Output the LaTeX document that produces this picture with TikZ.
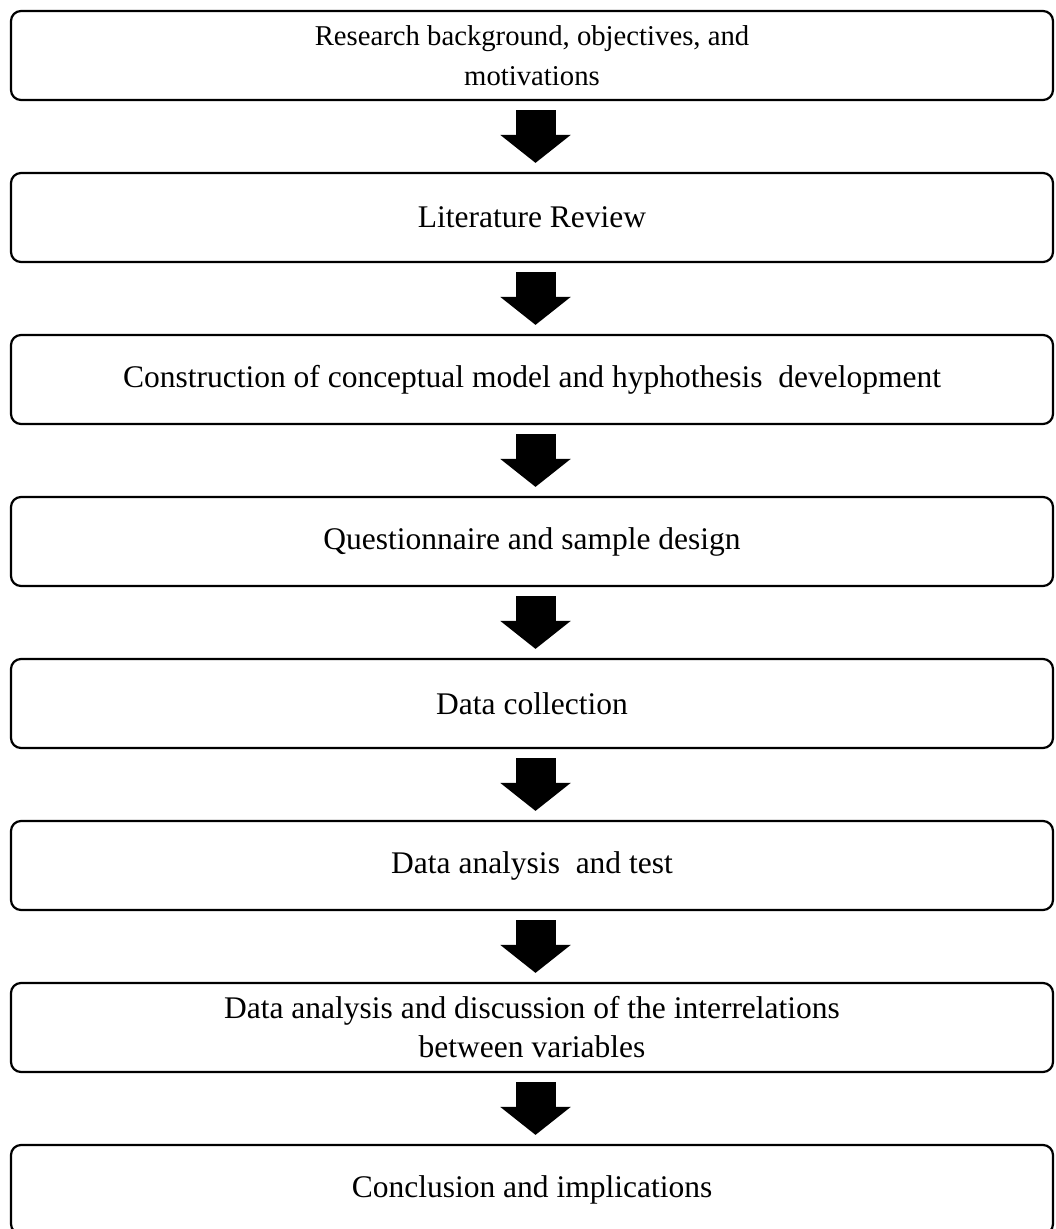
\documentclass[tikz,border=0pt]{standalone}
\usepackage{fontspec}
\setmainfont{Liberation Serif}
\usepackage{tikz}
\usetikzlibrary{positioning,arrows.meta}
\definecolor{colorframe}{RGB}{0 ,0 ,0 }
\definecolor{colortext} {RGB}{0 ,0 ,0 }

\begin{document}
\begin{tikzpicture}[
    x=1pt, y=-1pt,
    font={\fontsize{31.5}{39}\selectfont},
    stage/.style={draw=colorframe,line width=2.2pt,rounded corners=10pt,
        minimum width=1042pt,minimum height=89pt,inner sep=0pt,
        align=center,text=colortext},
    stagesmall/.style={stage,font={\fontsize{28.7}{40}\selectfont}},
    flow/.style={draw=colorframe,line width=40pt,
        -{Triangle[width=69pt,length=28pt]},shorten <=9pt,shorten >=9pt},
]

    \useasboundingbox (0,0) rectangle (1056,1229);

    \node[stagesmall] (background) at (532,55.5) {Research background, objectives, and\\
    motivations};
    \node[stage] (review) at (532,217.5) {Literature Review};
    \node[stage] (model) at (532,379.5) {Construction of conceptual model and hyphothesis\ \ development};
    \node[stage] (design) at (532,541.5) {Questionnaire and sample design};
    \node[stage] (collection) at (532,703.5) {Data collection};
    \node[stage] (test) at (532,865.5) {Data analysis\ \ and test};
    \node[stage] (discussion) at (532,1027.5) {Data analysis and discussion of the interrelations\\
    between variables};
    \node[stage] (conclusion) at (532,1189.5) {Conclusion and implications};

    \draw[flow] ([xshift=3.5pt]background.south) -- ([xshift=3.5pt]review.north);
    \draw[flow] ([xshift=3.5pt]review.south) -- ([xshift=3.5pt]model.north);
    \draw[flow] ([xshift=3.5pt]model.south) -- ([xshift=3.5pt]design.north);
    \draw[flow] ([xshift=3.5pt]design.south) -- ([xshift=3.5pt]collection.north);
    \draw[flow] ([xshift=3.5pt]collection.south) -- ([xshift=3.5pt]test.north);
    \draw[flow] ([xshift=3.5pt]test.south) -- ([xshift=3.5pt]discussion.north);
    \draw[flow] ([xshift=3.5pt]discussion.south) -- ([xshift=3.5pt]conclusion.north);

\end{tikzpicture}
\end{document}
